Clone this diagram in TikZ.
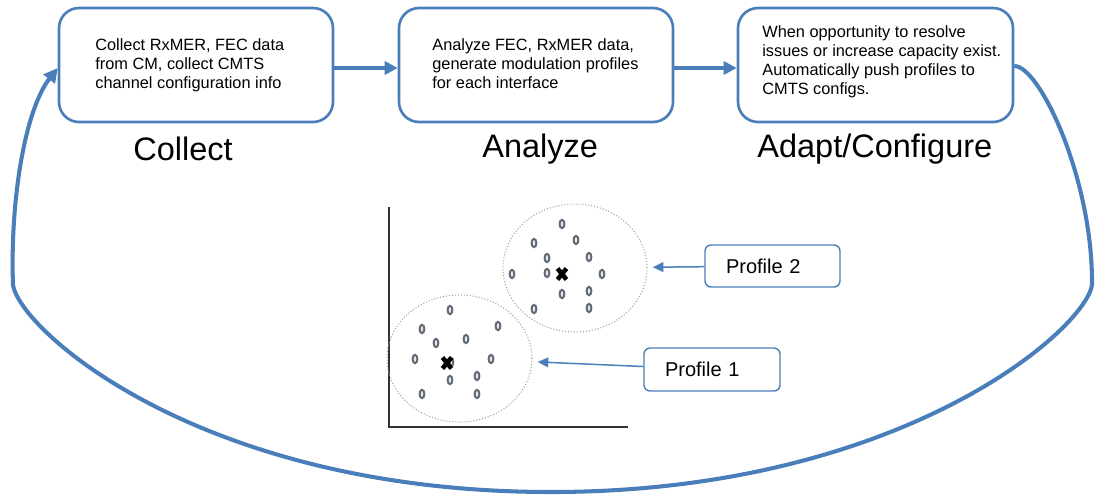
\documentclass[tikz,border=0pt]{standalone}
\usepackage{fontspec}
\setmainfont{Liberation Sans}
\usetikzlibrary{arrows.meta,shapes.geometric}
\definecolor{flowblue}{RGB}{74,126,187}
\definecolor{dotgray}{RGB}{96,102,114}
\definecolor{dotfill}{RGB}{226,232,242}

\begin{document}
\begin{tikzpicture}[x=0.02cm,y=-0.02cm,
  stagebox/.style={draw=flowblue,line width=1.5pt,rounded corners=0.4cm,
    minimum width=5.48cm,minimum height=2.28cm,inner sep=0pt},
  stagetext/.style={anchor=north west,inner sep=0pt,align=left,
    font=\fontsize{9.3}{10.9}\selectfont},
  stagelabel/.style={anchor=base west,inner sep=0pt,
    font=\fontsize{18.5}{22}\selectfont},
  flow/.style={draw=flowblue,line width=1.9pt,
    -{Triangle[length=7.5pt,width=7.5pt]}},
  cycle/.style={draw=flowblue,line width=2.3pt,
    -{Triangle[length=8pt,width=8pt]}},
  cluster/.style={ellipse,draw=gray!75,line width=0.6pt,
    dash pattern=on 0.6pt off 1.1pt,inner sep=0pt},
  profbox/.style={draw=flowblue,line width=0.8pt,rounded corners=0.12cm,
    inner xsep=0.42cm,inner ysep=0pt,align=left,
    font=\fontsize{11.4}{13}\selectfont},
  pointer/.style={draw=flowblue,line width=0.85pt,shorten >=3pt,
    -{Triangle[length=6pt,width=5.5pt]}},
  member/.style={draw=dotgray,fill=dotfill,line width=1.1pt},
  centroid/.style={draw=black,line width=2.6pt},
  axis/.style={draw=black!80,line cap=rect}
  ]
\useasboundingbox (0,0) rectangle (1096,498);

% three stages of the loop
\node[stagebox] (s1) at (196,65) {};
\node[stagebox] (s2) at (536,65) {};
\node[stagebox,minimum width=5.5cm] (s3) at (875.5,65) {};

\node[stagetext] (t1) at (95,38.2) {Collect RxMER, FEC data\\from CM, collect CMTS\\channel configuration info};
\node[stagetext] (t2) at (432,38.2) {Analyze FEC, RxMER data,\\generate modulation profiles\\for each interface};
\node[stagetext] (t3) at (762,25.2) {When opportunity to resolve\\issues or increase capacity exist.\\Automatically push profiles to\\CMTS configs.};

\node[stagelabel] (l1) at (133,160) {Collect};
\node[stagelabel] (l2) at (482,157) {Analyze};
\node[stagelabel] (l3) at (757,157) {Adapt/Configure};

% forward arrows between stages
\draw[flow] (s1.east |- 0,68) -- (s2.west |- 0,68);
\draw[flow] (s2.east |- 0,68) -- (s3.west |- 0,68);

% feedback loop back to collection
\draw[cycle] (s3.east |- 0,66)
  .. controls (1040,66) and (1093,180) .. (1092,285)
  .. controls (1085,330) and (900,492) .. (551,492)
  .. controls (200,492) and (20,330) .. (13,285)
  .. controls (10,200) and (25,110) .. (s1.west |- 0,68);

% scatter plot axes
\draw[axis,line width=1.1pt] (389,208) -- (389,427);
\draw[axis,line width=1.6pt] (389,427) -- (627,427);

% clusters
\node[cluster,minimum width=2.88cm,minimum height=2.56cm] (c2) at (575,268) {};
\node[cluster,minimum width=2.9cm,minimum height=2.54cm] (c1) at (459.5,358.5) {};

\foreach \p in {(562,224),(534,243),(576,240),(547,258),(589,257),(512,274),
                (547,273),(602,274),(562,294),(589,291),(534,309),(589,308),
                (450,310),(422,329),(498,326),(466,339),(436,343),(415,359),
                (451,362),(491,359),(450,380),(477,376),(422,394),(477,394)}
  \draw[member] \p ellipse [x radius=0.048cm, y radius=0.084cm];

% cluster centroids
\foreach \cx/\cy in {562/274,447/363}
  \draw[centroid] (\cx-4.5,\cy-5.5) -- (\cx+4.5,\cy+5.5) (\cx-4.5,\cy+5.5) -- (\cx+4.5,\cy-5.5);

% profile callouts
\node[profbox,text width=1.86cm,minimum height=0.84cm] (p2) at (772.5,266) {Profile 2};
\node[profbox,text width=1.88cm,minimum height=0.86cm] (p1) at (712,369.5) {Profile 1};

\draw[pointer] (p2) -- (c2);
\draw[pointer] (p1) -- (c1);
\end{tikzpicture}
\end{document}
